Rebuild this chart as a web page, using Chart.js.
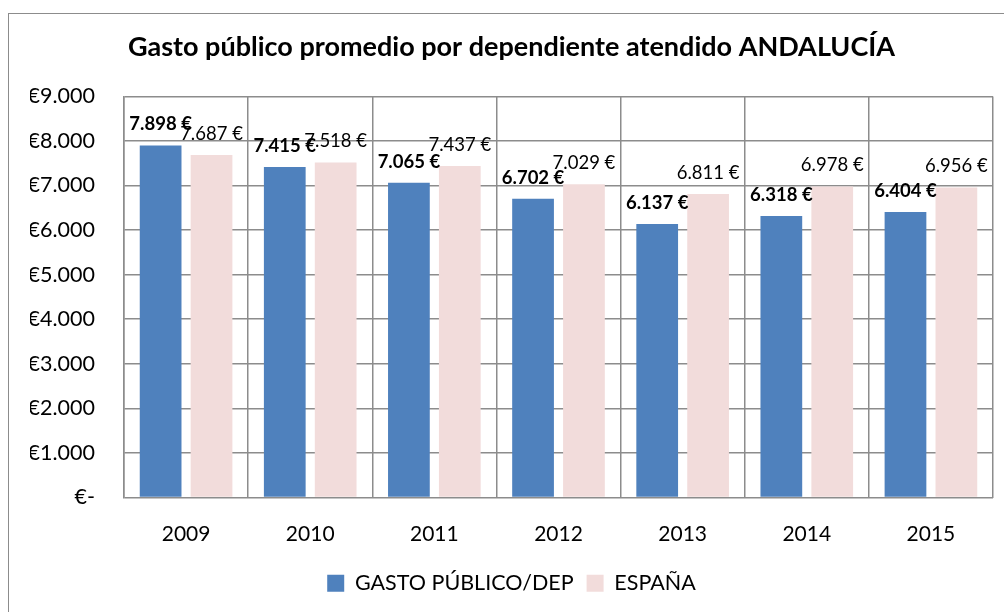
<!DOCTYPE html>
<html lang="es">
<head>
    <meta charset="UTF-8">
    <title>Gasto público promedio</title>
    <script src="https://cdn.jsdelivr.net/npm/chart.js"></script>
    <style>
        body { margin: 0; background: #fff; }
        #frame { position: absolute; left: 8px; top: 13px; width: 1010px; height: 620px; border: 1.5px solid #8c8c8c; box-sizing: border-box; }
        #gastoChart { position: absolute; left: 0; top: 0; }
    </style>
</head>
<body>
    <div id="frame"></div>
    <canvas id="gastoChart" width="1004" height="612"></canvas>

    <script>
        // datos
        const years = ["2009", "2010", "2011", "2012", "2013", "2014", "2015"];
        const andalucia = [7898, 7415, 7065, 6702, 6137, 6318, 6404];
        const espana = [7687, 7518, 7437, 7029, 6811, 6978, 6956];
        const yTickLabels = ["€-", "€1.000", "€2.000", "€3.000", "€4.000", "€5.000", "€6.000", "€7.000", "€8.000", "€9.000"];

        const FONT = "Lato, 'Open Sans', sans-serif";

        function euro(v) {
            return Math.floor(v / 1000) + "." + String(v % 1000).padStart(3, "0") + " €";
        }

        // etiquetas encima de las barras
        const barLabels = {
            id: "barLabels",
            afterDatasetsDraw(chart) {
                const ctx = chart.ctx;
                ctx.save();
                ctx.textAlign = "center";
                ctx.textBaseline = "middle";
                ctx.fillStyle = "#000";
                chart.data.datasets.forEach((ds, i) => {
                    const meta = chart.getDatasetMeta(i);
                    ctx.font = (i === 0 ? "bold " : "") + "18.5px " + FONT;
                    meta.data.forEach((bar, j) => {
                        ctx.fillText(euro(ds.data[j]), bar.x, bar.y - 21);
                    });
                });
                ctx.restore();
            }
        };

        const ctx = document.getElementById("gastoChart").getContext("2d");
        new Chart(ctx, {
            type: "bar",
            data: {
                labels: years,
                datasets: [
                    {
                        label: "GASTO PÚBLICO/DEP",
                        data: andalucia,
                        backgroundColor: "#4F81BD"
                    }, {
                        label: "ESPAÑA",
                        data: espana,
                        backgroundColor: "#F2DCDB"
                    }
                ]
            },
            options: {
                responsive: false,
                animation: false,
                devicePixelRatio: 1,
                categoryPercentage: 0.82,
                barPercentage: 0.82,
                layout: { padding: { left: 30, right: 11, bottom: 8 } },
                plugins: {
                    title: {
                        display: true,
                        text: "Gasto público promedio por dependiente atendido ANDALUCÍA",
                        color: "#000",
                        font: { family: FONT, size: 27, weight: "bold" },
                        padding: { top: 31, bottom: 33 }
                    },
                    legend: {
                        position: "bottom",
                        labels: {
                            color: "#000",
                            font: { family: FONT, size: 21.5 },
                            boxWidth: 17,
                            boxHeight: 17,
                            padding: 13
                        }
                    },
                    tooltip: { enabled: false }
                },
                scales: {
                    x: {
                        grid: { color: "#8c8c8c", lineWidth: 1.5, drawTicks: false },
                        border: { display: false },
                        ticks: { color: "#000", font: { family: FONT, size: 21 }, padding: 24, maxRotation: 0 },
                        afterFit(scale) { scale.height = 62; }
                    },
                    y: {
                        min: 0,
                        max: 9000,
                        grid: { color: "#8c8c8c", lineWidth: 1.5, drawTicks: false },
                        border: { color: "#8c8c8c", width: 1.5 },
                        ticks: {
                            stepSize: 1000,
                            color: "#000",
                            font: { family: FONT, size: 21.5 },
                            padding: 29,
                            callback: (v, i) => yTickLabels[i]
                        },
                        afterFit(scale) { scale.width = 94; }
                    }
                }
            },
            plugins: [barLabels]
        });
    </script>
</body>
</html>
